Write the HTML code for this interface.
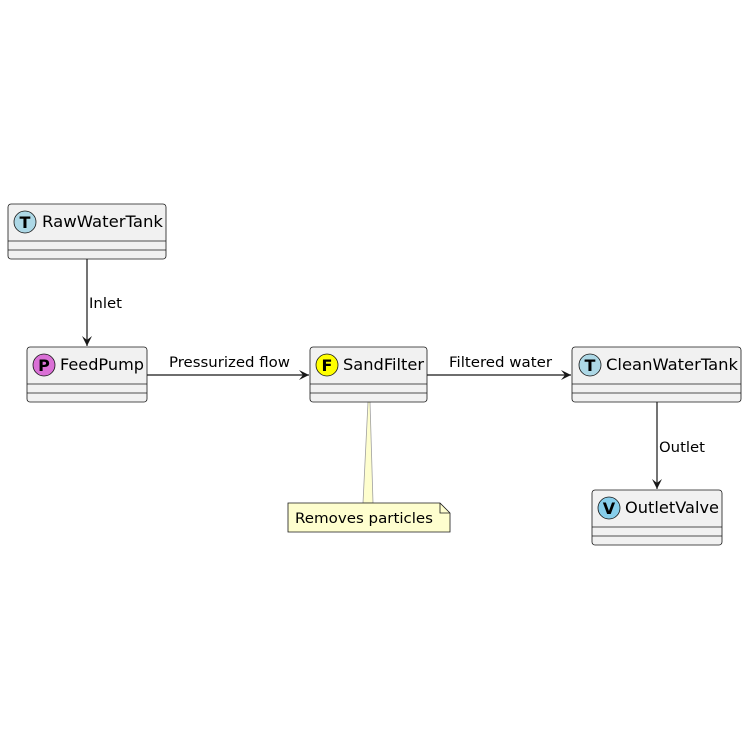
<!DOCTYPE html>
<html><head><style>body{margin:0;background:#fff}</style></head><body>
<svg width="750" height="750" xmlns="http://www.w3.org/2000/svg" font-family="DejaVu Sans, Liberation Sans, sans-serif">
<defs>
<marker id="a" markerWidth="12" markerHeight="12" refX="10" refY="5" orient="auto" markerUnits="userSpaceOnUse">
<path d="M0,0 L10,5 L0,10 L4,5 Z" fill="#181818"/></marker>
</defs>
<g stroke="#181818" stroke-width="1.2" fill="none">
<line x1="87" y1="259" x2="87" y2="346" marker-end="url(#a)"/>
<line x1="147" y1="375" x2="309" y2="375" marker-end="url(#a)"/>
<line x1="427" y1="375" x2="571" y2="375" marker-end="url(#a)"/>
<line x1="657" y1="402" x2="657" y2="489" marker-end="url(#a)"/>
</g>
<path d="M368,402 L370,402 L373,503 L363,503 Z" fill="#fefece" stroke="#a0a0a0" stroke-width="0.8"/>
<path d="M288,503 L440,503 L450,513 L450,532 L288,532 Z" fill="#fefece" stroke="#181818" stroke-width="0.8"/>
<path d="M440,503 L440,513 L450,513" fill="none" stroke="#181818" stroke-width="0.8"/>
<text x="295" y="523" font-size="14" fill="#000" textLength="138" lengthAdjust="spacingAndGlyphs">Removes particles</text>
<g font-size="14" fill="#000">
<text x="89" y="308" textLength="33" lengthAdjust="spacingAndGlyphs">Inlet</text>
<text x="169" y="367" textLength="121" lengthAdjust="spacingAndGlyphs">Pressurized flow</text>
<text x="449" y="367" textLength="103" lengthAdjust="spacingAndGlyphs">Filtered water</text>
<text x="659" y="452" textLength="46" lengthAdjust="spacingAndGlyphs">Outlet</text>
</g>
<g stroke="#181818" stroke-width="0.8">
<rect x="8" y="204" width="158" height="55" rx="3" fill="#f1f1f1"/>
<line x1="8" y1="241" x2="166" y2="241"/><line x1="8" y1="250" x2="166" y2="250"/>
<rect x="27" y="347" width="120" height="55" rx="3" fill="#f1f1f1"/>
<line x1="27" y1="384" x2="147" y2="384"/><line x1="27" y1="393" x2="147" y2="393"/>
<rect x="310" y="347" width="117" height="55" rx="3" fill="#f1f1f1"/>
<line x1="310" y1="384" x2="427" y2="384"/><line x1="310" y1="393" x2="427" y2="393"/>
<rect x="572" y="347" width="169" height="55" rx="3" fill="#f1f1f1"/>
<line x1="572" y1="384" x2="741" y2="384"/><line x1="572" y1="393" x2="741" y2="393"/>
<rect x="592" y="490" width="130" height="55" rx="3" fill="#f1f1f1"/>
<line x1="592" y1="527" x2="722" y2="527"/><line x1="592" y1="536" x2="722" y2="536"/>
<circle cx="25" cy="222" r="11" fill="#add8e6"/>
<circle cx="44" cy="365" r="11" fill="#da70d6"/>
<circle cx="327" cy="365" r="11" fill="#ffff00"/>
<circle cx="590" cy="365" r="11" fill="#add8e6"/>
<circle cx="609" cy="508" r="11" fill="#87ceeb"/>
</g>
<g font-size="16" font-weight="bold" text-anchor="middle" fill="#000">
<text x="25" y="228">T</text><text x="44" y="371">P</text><text x="327" y="371">F</text>
<text x="590" y="371">T</text><text x="609" y="514">V</text>
</g>
<g font-size="16" fill="#000">
<text x="42" y="227" textLength="121" lengthAdjust="spacingAndGlyphs">RawWaterTank</text>
<text x="60" y="370" textLength="84" lengthAdjust="spacingAndGlyphs">FeedPump</text>
<text x="343" y="370" textLength="81" lengthAdjust="spacingAndGlyphs">SandFilter</text>
<text x="606" y="370" textLength="132" lengthAdjust="spacingAndGlyphs">CleanWaterTank</text>
<text x="625" y="513" textLength="94" lengthAdjust="spacingAndGlyphs">OutletValve</text>
</g>
</svg>
</body></html>
